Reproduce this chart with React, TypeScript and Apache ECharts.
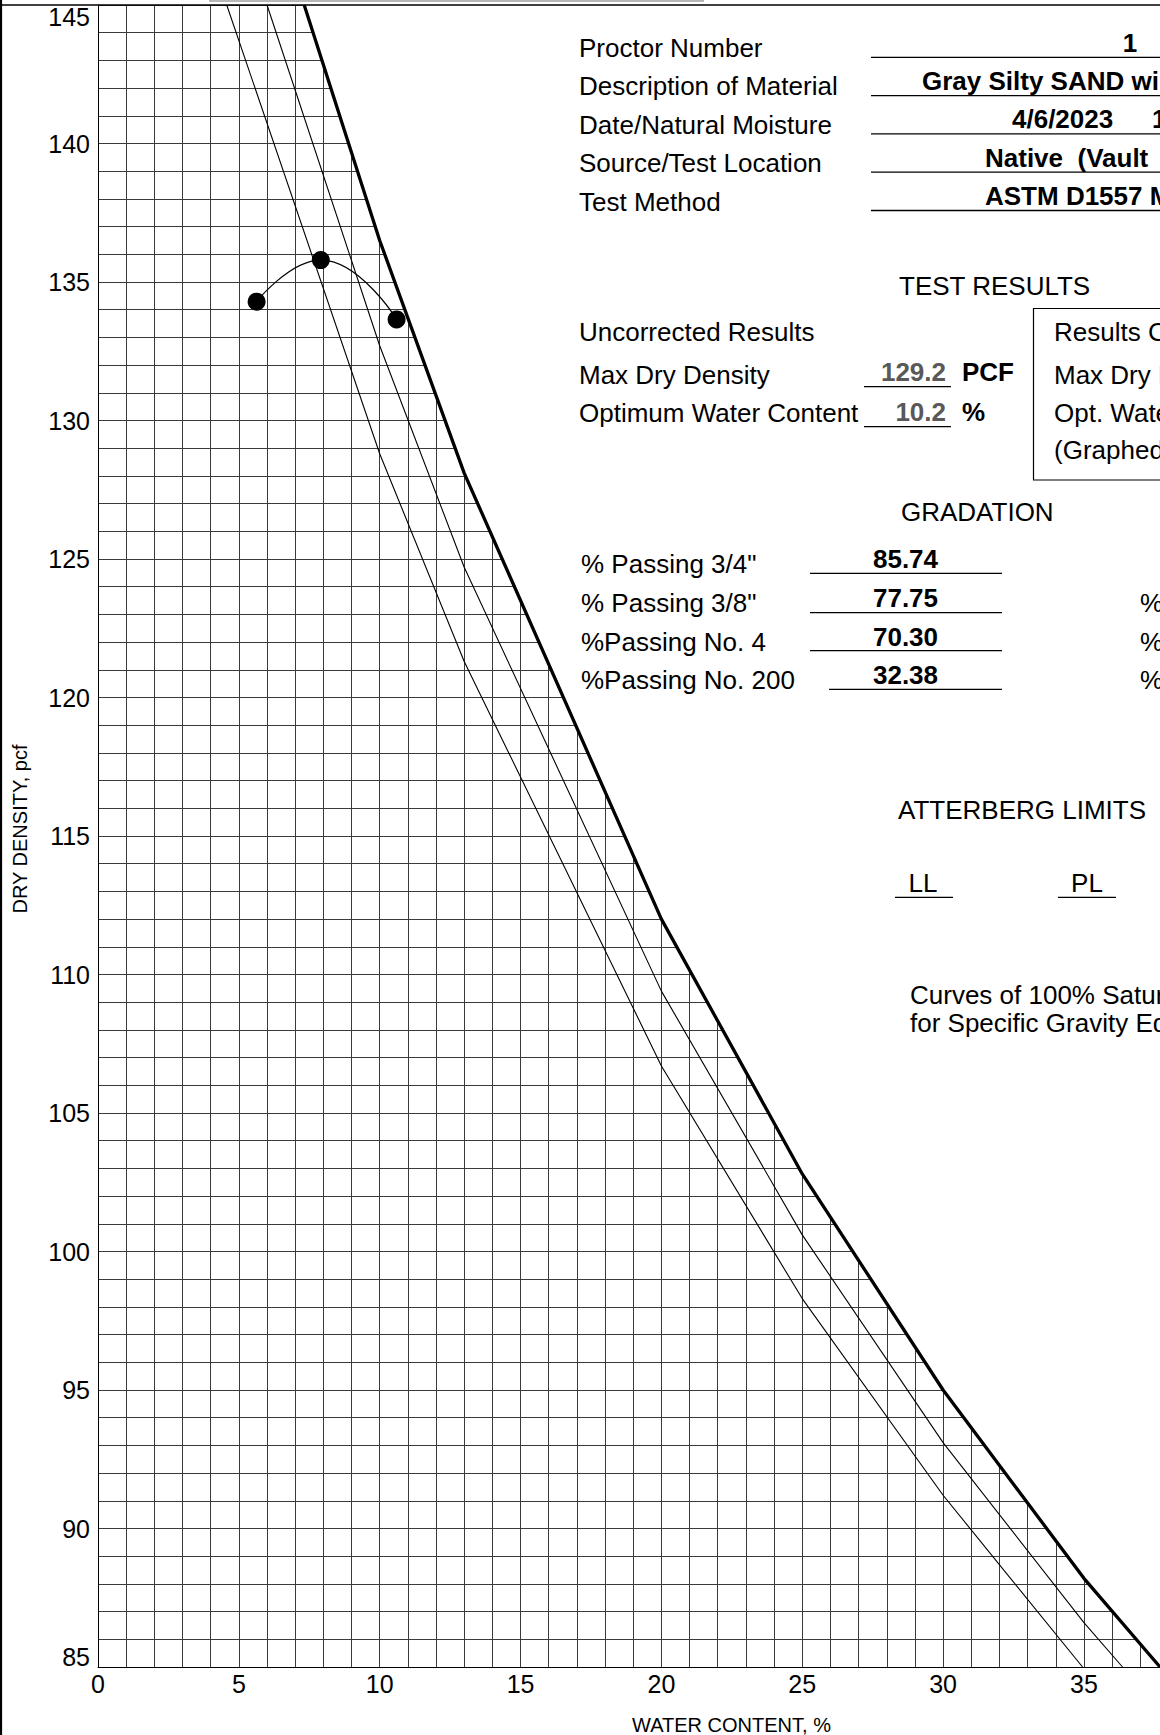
import React, { useEffect, useRef } from 'react';
import * as echarts from 'echarts';

const FONT = '"Liberation Sans", Arial, Helvetica, sans-serif';

// ---- data ----
const waterContent = [5.63, 7.91, 10.6];
const dryDensity = [134.29, 135.79, 133.65];

// zero-air-voids curves (vertices)
const zav280Water = [7.32, 10, 13, 20, 25, 30, 35, 37.7];
const zav280Density = [145.0, 136.5, 128.1, 112.0, 102.8, 95.0, 88.2, 85.0];
const zav270Water = [6.0, 10, 13, 20, 25, 30, 35, 36.37];
const zav270Density = [145.0, 132.7, 124.7, 109.4, 100.6, 93.1, 86.6, 85.0];
const zav260Water = [4.57, 10, 13, 20, 25, 30, 34.95];
const zav260Density = [145.0, 128.8, 121.3, 106.7, 98.3, 91.2, 85.0];

const xTickLabels = [0, 5, 10, 15, 20, 25, 30, 35];
const yTickLabels = [85, 90, 95, 100, 105, 110, 115, 120, 125, 130, 135, 140, 145];

const headerLabels = ['Proctor Number', 'Description of Material', 'Date/Natural Moisture', 'Source/Test Location', 'Test Method'];
const headerValues = ['1', 'Gray Silty SAND wi', '4/6/2023', 'Native\u00a0\u00a0(Vault', 'ASTM D1557 M'];
const naturalMoisturePart = '1';
const uncorrectedLabels = ['Uncorrected Results', 'Max Dry Density', 'Optimum Water Content'];
const uncorrectedValues = ['129.2', '10.2'];
const uncorrectedUnits = ['PCF', '%'];
const correctedLabels = ['Results C', 'Max Dry D', 'Opt. Wate', '(Graphed'];
const gradationLabels = ['% Passing 3/4"', '% Passing 3/8"', '%Passing No. 4', '%Passing No. 200'];
const gradationValues = ['85.74', '77.75', '70.30', '32.38'];
const atterbergLabels = ['LL', 'PL'];
const saturationText = ['Curves of 100% Satur', 'for Specific Gravity Eq'];

const zip = (a: number[], b: number[]) => a.map((v, i) => [v, b[i]]);

function buildGraphic() {
  const g: any[] = [];
  const txt = (text: string, x: number, y: number, opts: any = {}) =>
    g.push({
      type: 'text', x, y, z: 100, silent: true, rotation: opts.rotation || 0,
      style: {
        text, fontSize: opts.size || 26, fontFamily: FONT, fontWeight: opts.bold ? 'bold' : 'normal',
        fill: opts.color || '#000', align: opts.align || 'left', verticalAlign: 'middle',
      },
    });
  const ln = (x1: number, y1: number, x2: number, y2: number, w = 1.3, c = '#000') =>
    g.push({ type: 'line', z: 100, silent: true, shape: { x1, y1, x2, y2 }, style: { stroke: c, lineWidth: w } });

  // frame
  ln(1, 0, 1, 1735, 2.2);
  ln(0, 5, 1160, 5, 1.5);
  g.push({ type: 'rect', z: 100, silent: true, shape: { x: 210, y: -10, width: 493, height: 11 }, style: { fill: 'none', stroke: '#a0a0a0', lineWidth: 1.5 } });

  // header
  headerLabels.forEach((t, i) => txt(t, 579, 48 + 38.4 * i));
  const valueX = [1130, 922, 1012, 985, 985];
  headerValues.forEach((t, i) => txt(t, valueX[i], 42.5 + 38.4 * i, { bold: true, align: i === 0 ? 'center' : 'left' }));
  txt(naturalMoisturePart, 1152, 42.5 + 38.4 * 2, { bold: true });
  headerValues.forEach((_, i) => ln(871, 57.3 + 38.3 * i, 1160, 57.3 + 38.3 * i));

  // test results
  txt('TEST RESULTS', 899, 285.6);
  const urY = [331.7, 375, 413.3];
  uncorrectedLabels.forEach((t, i) => txt(t, 579, urY[i]));
  const uvY = [372, 411.5];
  uncorrectedValues.forEach((t, i) => {
    txt(t, 946, uvY[i], { bold: true, align: 'right', color: '#595959' });
    txt(uncorrectedUnits[i], 962, uvY[i], { bold: true });
  });
  ln(864, 386.7, 951, 386.7);
  ln(864, 426.7, 951, 426.7);
  g.push({ type: 'rect', z: 100, silent: true, shape: { x: 1033.5, y: 308.5, width: 300, height: 171.5 }, style: { fill: 'none', stroke: '#000', lineWidth: 1.2 } });
  const crY = [331.7, 375, 413.3, 450];
  correctedLabels.forEach((t, i) => txt(t, 1054, crY[i]));

  // gradation
  txt('GRADATION', 901, 511.5);
  const grY = [564, 602.5, 641.5, 679.5];
  gradationLabels.forEach((t, i) => txt(t, 581, grY[i]));
  gradationValues.forEach((t, i) => txt(t, 905.5, grY[i] - 5, { bold: true, align: 'center' }));
  const ulY = [573.3, 612.7, 650.7, 689.3];
  ulY.forEach((y, i) => ln(i === 3 ? 829 : 810, y, 1002, y));
  [1, 2, 3].forEach((i) => txt('%', 1140, grY[i]));

  // atterberg
  txt('ATTERBERG LIMITS', 898, 810);
  txt(atterbergLabels[0], 923, 883.3, { align: 'center' });
  ln(895, 897.3, 953, 897.3);
  txt(atterbergLabels[1], 1087, 883.3, { align: 'center' });
  ln(1058, 897.3, 1116, 897.3);
  txt(saturationText[0], 910, 995);
  txt(saturationText[1], 910, 1023.3);

  // axis titles
  txt('WATER CONTENT, %', 731.5, 1725, { size: 20, align: 'center' });
  txt('DRY DENSITY, pcf', 20, 829, { size: 20, align: 'center', rotation: Math.PI / 2 });
  return g;
}

export default function App() {
  const ref = useRef<HTMLDivElement>(null);
  useEffect(() => {
    if (!ref.current) return;
    const chart = echarts.init(ref.current, undefined, { renderer: 'svg' });
    const near = (v: number, list: number[]) => list.find((t) => Math.abs(t - v) < 1e-6);
    const option: any = {
      animation: false,
      backgroundColor: '#fff',
      textStyle: { fontFamily: FONT },
      grid: { left: 98, top: 5, right: 0, bottom: 68 },
      xAxis: {
        type: 'value', min: 0, max: 37.7, interval: 1,
        axisLine: { show: true, onZero: false, lineStyle: { color: '#000', width: 1 } },
        axisTick: { show: false },
        axisLabel: {
          fontSize: 25, color: '#000', fontFamily: FONT, margin: 4, lineHeight: 25,
          showMaxLabel: false,
          formatter: (v: number) => { const t = near(v, xTickLabels); return t === undefined ? '' : String(t); },
        },
        splitLine: { show: true, showMaxLine: false, lineStyle: { color: '#3a3a3a', width: 1 } },
      },
      yAxis: {
        type: 'value', min: 85, max: 145, interval: 1,
        axisLine: { show: true, onZero: false, lineStyle: { color: '#000', width: 1 } },
        axisTick: { show: false },
        axisLabel: {
          fontSize: 25, color: '#000', fontFamily: FONT, margin: 8,
          formatter: (v: number) => {
            const t = near(v, yTickLabels);
            if (t === undefined) return '';
            if (t === 145) return '{t|145}';
            if (t === 85) return '{b|85}';
            return String(t);
          },
          rich: {
            t: { fontSize: 25, color: '#000', fontFamily: FONT, padding: [23, 0, 0, 0] },
            b: { fontSize: 25, color: '#000', fontFamily: FONT, padding: [0, 0, 20, 0] },
          },
        },
        splitLine: { show: true, lineStyle: { color: '#3a3a3a', width: 1 } },
      },
      series: [
        {
          type: 'line', name: 'ZAV 2.80', data: zip(zav280Water, zav280Density), symbol: 'none', silent: true,
          lineStyle: { color: '#000', width: 3.3 },
          areaStyle: { color: '#fff', opacity: 1, origin: 'end' },
        },
        { type: 'line', name: 'ZAV 2.70', data: zip(zav270Water, zav270Density), symbol: 'none', silent: true, lineStyle: { color: '#000', width: 1.1 } },
        { type: 'line', name: 'ZAV 2.60', data: zip(zav260Water, zav260Density), symbol: 'none', silent: true, lineStyle: { color: '#000', width: 1.1 } },
        { type: 'line', name: 'Compaction curve', data: zip(waterContent, dryDensity), smooth: true, symbol: 'none', silent: true, lineStyle: { color: '#000', width: 1.2 } },
        { type: 'scatter', name: 'Test points', data: zip(waterContent, dryDensity), symbolSize: 18, silent: true, itemStyle: { color: '#000', opacity: 1 } },
      ],
      graphic: buildGraphic(),
    };
    chart.setOption(option);
    return () => chart.dispose();
  }, []);
  return <div ref={ref} style={{ position: 'absolute', left: 0, top: 0, width: 1160, height: 1735 }} />;
}
